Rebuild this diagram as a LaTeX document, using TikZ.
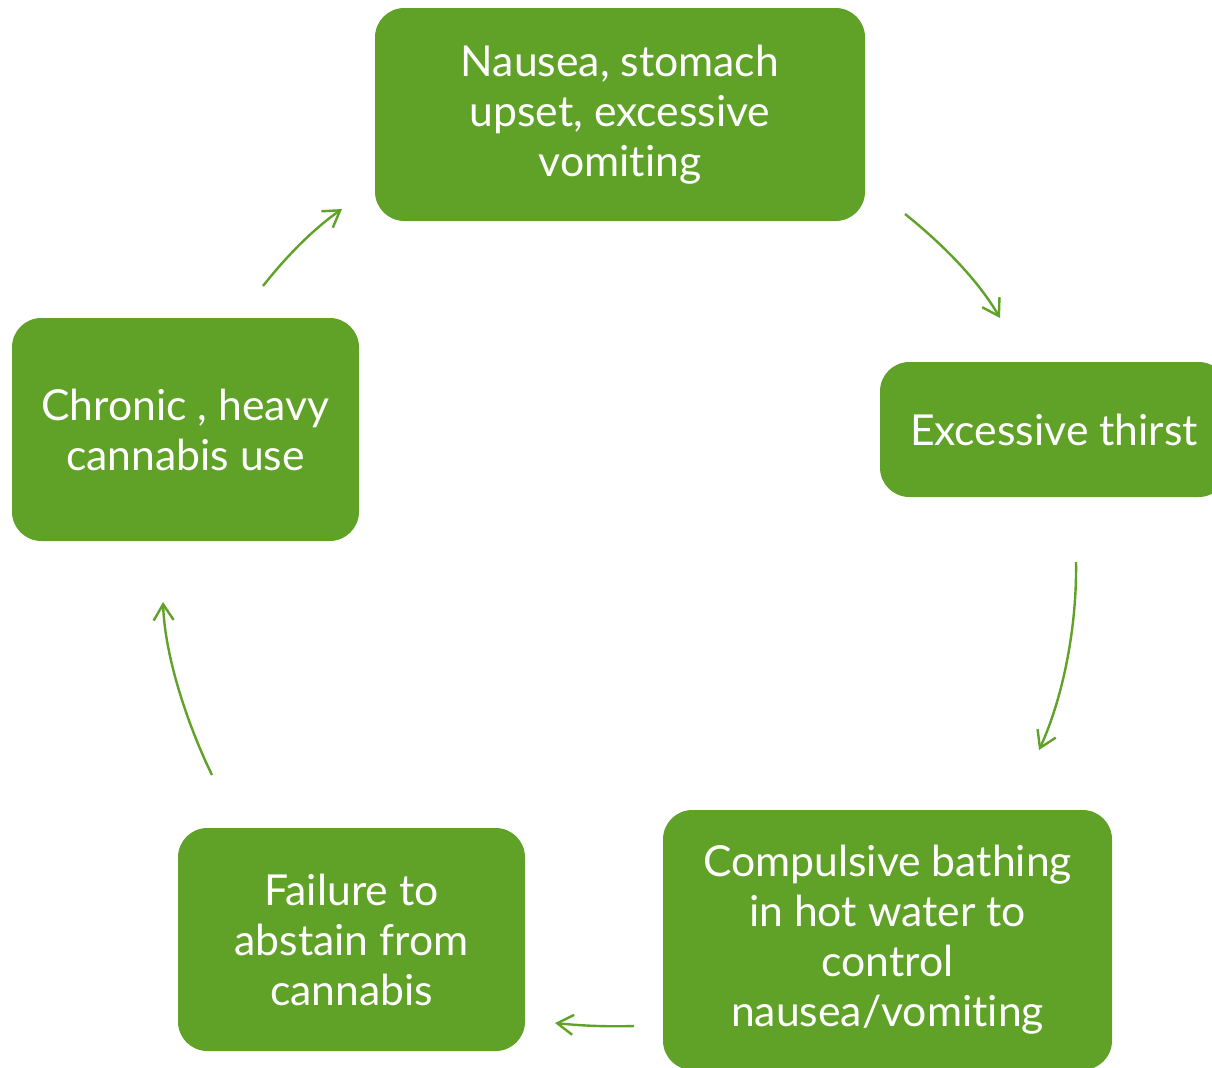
\documentclass[tikz,border=0pt]{standalone}
\usepackage{fontspec}
\setmainfont{Lato}[Ligatures={NoCommon,NoContextual}]
\usetikzlibrary{arrows.meta}
\definecolor{leaf}{RGB}{96,162,40}
\tikzset{
  stage/.style={fill=leaf, rounded corners=22pt, text=white, align=center,
    font=\fontsize{32}{37.5}\selectfont, inner sep=0pt},
  cycle arrow/.style={draw=leaf, line width=1.8pt,
    -{Straight Barb[length=12pt,width=15pt,line width=1.8pt]}}
}
\begin{document}
\begin{tikzpicture}[x=0.75pt,y=-0.75pt]
  \useasboundingbox (0,0) rectangle (1212,1067);
  \clip (0,0) rectangle (1212,1067);

  % stages of the cycle
  \node[stage, minimum width=490*0.75pt, minimum height=213*0.75pt] (nausea) at (620,114.5)
    {Nausea, stomach\\upset, excessive\\vomiting};
  \node[stage, minimum width=348*0.75pt, minimum height=135*0.75pt] (thirst) at (1054,429.5)
    {Excessive thirst};
  \node[stage, minimum width=449*0.75pt, minimum height=260*0.75pt] (bathing) at (887.5,940)
    {Compulsive bathing\\in hot water to\\control\\nausea/vomiting};
  \node[stage, minimum width=347*0.75pt, minimum height=223*0.75pt] (failure) at (351.5,939.5)
    {Failure to\\abstain from\\cannabis};
  \node[stage, minimum width=347*0.75pt, minimum height=223*0.75pt] (chronic) at (185.5,429.5)
    {Chronic , heavy\\cannabis use};

  % free ends of the connecting arrows
  \coordinate (a1s) at (905,214);  \coordinate (a1e) at (1000,318);
  \coordinate (a2s) at (1076,562); \coordinate (a2e) at (1039,750);
  \coordinate (a3s) at (634,1026); \coordinate (a3e) at (555,1023);
  \coordinate (a4s) at (212,775);  \coordinate (a4e) at (163,602);
  \coordinate (a5s) at (263,286);  \coordinate (a5e) at (342,209);

  \draw[cycle arrow] (a1s) .. controls (935,238) and (975,275) .. (a1e);
  \draw[cycle arrow] (a2s) .. controls (1077,630) and (1062,700) .. (a2e);
  \draw[cycle arrow] (a3s) .. controls (600,1027) and (575,1025) .. (a3e);
  \draw[cycle arrow] (a4s) .. controls (190,730) and (165,660) .. (a4e);
  \draw[cycle arrow] (a5s) .. controls (285,258) and (312,230) .. (a5e);
\end{tikzpicture}
\end{document}
